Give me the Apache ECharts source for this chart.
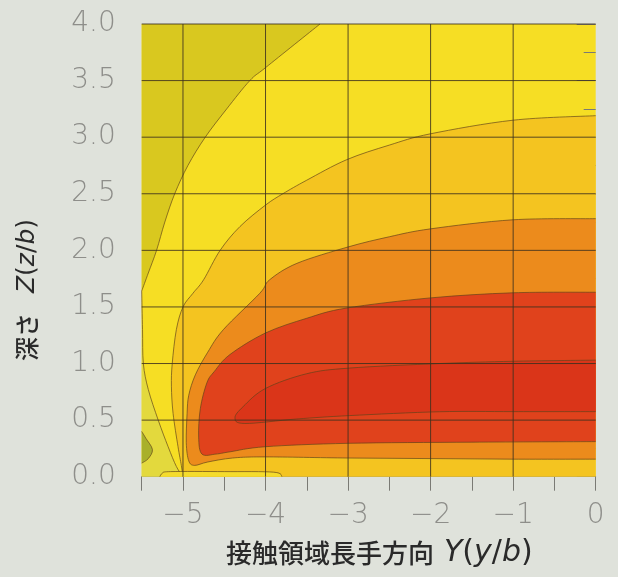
<!DOCTYPE html>
<html>
<head>
<meta charset="utf-8">
<script src="https://cdn.jsdelivr.net/npm/echarts@6/dist/echarts.min.js"></script>
<style>
html,body{margin:0;padding:0;background:#dfe2db;}
#main{width:618px;height:577px;}
</style>
</head>
<body>
<div id="main"></div>
<script>
// ---- data, Y = y/b, Z = z/b ----
const xTickLabels = [-5, -4, -3, -2, -1, 0];
const gridYs = [-5, -4, -3, -2, -1];
const gridZs = [0.5, 1.0, 1.5, 2.0, 2.5, 3.0, 3.5, 4.0];

// contour boundaries [Y, Z]
const oliveEdge = [[-3.34,4.0],[-3.99,3.62],[-4.19,3.5],[-4.47,3.25],[-4.73,3.0],[-4.94,2.75],[-5.10,2.5],[-5.22,2.25],[-5.32,2.0],[-5.42,1.8],[-5.5,1.64]];
const oliveClose = [[-5.5,4.0]];
const stripEdge = [[-5.5,1.64],[-5.49,1.3],[-5.48,1.0],[-5.42,0.77],[-5.30,0.5],[-5.18,0.265],[-5.08,0.09],[-5.0,0.0]];
const stripClose = [[-5.5,0.0]];
const greenPatch = [[-5.5,0.40],[-5.45,0.34],[-5.37,0.24],[-5.42,0.16],[-5.5,0.12]];
const lightOrangeEdge = [[0,3.19],[-1,3.15],[-2,3.03],[-2.5,2.93],[-3.02,2.80],[-3.5,2.62],[-3.79,2.5],[-4.0,2.40],[-4.31,2.21],[-4.55,2.0],[-4.75,1.74],[-4.88,1.62],[-5.0,1.50],[-5.08,1.3],[-5.13,1.0],[-5.14,0.8],[-5.12,0.56],[-5.06,0.265],[-5.02,0.1],[-5.0,0.0]];
const lightOrangeClose = [[0,0]];
const orangeEdge = [[0,2.28],[-1,2.27],[-2,2.19],[-2.5,2.12],[-3,2.03],[-3.62,1.885],[-3.95,1.74],[-4.07,1.62],[-4.51,1.30],[-4.70,1.10],[-4.85,0.90],[-4.93,0.72],[-4.95,0.56],[-4.96,0.30],[-4.93,0.14],[-4.86,0.10],[-4.7,0.13],[-4.4,0.165],[-4.0,0.175],[-3.0,0.165],[-2,0.16],[-1,0.155],[0,0.155]];
const redEdge = [[0,1.63],[-1,1.625],[-2,1.58],[-3.02,1.49],[-3.5,1.40],[-4.0,1.27],[-4.43,1.08],[-4.62,0.93],[-4.71,0.83],[-4.79,0.60],[-4.81,0.35],[-4.77,0.20],[-4.6,0.20],[-4.43,0.22],[-4.0,0.265],[-3.0,0.295],[-1.5,0.305],[0,0.31]];
const deepRedLoop = [[0,1.03],[-1,1.02],[-1.89,1.0],[-2.98,0.96],[-3.5,0.91],[-4.0,0.78],[-4.27,0.62],[-4.37,0.52],[-4.25,0.47],[-3.62,0.51],[-2.98,0.54],[-1.89,0.574],[-1,0.575],[0,0.575]];
const surfaceLoop = [[-5.28,0.0],[-5.25,0.03],[-5.15,0.045],[-4.5,0.045],[-3.9,0.04],[-3.8,0.0]];

const layers = [
  {edge: oliveEdge, close: oliveClose},
  {edge: stripEdge, close: stripClose},
  {edge: greenPatch, close: []},
  {edge: lightOrangeEdge, close: lightOrangeClose},
  {edge: orangeEdge, close: []},
  {edge: redEdge, close: []},
  {edge: deepRedLoop, close: []},
  {edge: surfaceLoop, close: []}
];
// styles
const fills = ['#d9c81f', '#e3d93d', '#a9b02a', '#f4c420', '#ec8b1c', '#e0421c', '#da3519', '#f5dc2c'];
const baseFill = '#f6de24';
const contourStroke = 'rgba(95,65,25,0.75)';
const gridStroke = 'rgba(60,48,30,0.85)';

function smoothPath(pts) {
  let d = 'M' + pts[0][0] + ' ' + pts[0][1];
  for (let i = 0; i < pts.length - 1; i++) {
    const p0 = pts[i - 1] || pts[i], p1 = pts[i], p2 = pts[i + 1], p3 = pts[i + 2] || pts[i + 1];
    const c1 = [p1[0] + (p2[0] - p0[0]) / 6, p1[1] + (p2[1] - p0[1]) / 6];
    const c2 = [p2[0] - (p3[0] - p1[0]) / 6, p2[1] - (p3[1] - p1[1]) / 6];
    d += ' C' + c1[0] + ' ' + c1[1] + ' ' + c2[0] + ' ' + c2[1] + ' ' + p2[0] + ' ' + p2[1];
  }
  return d;
}

const chart = echarts.init(document.getElementById('main'), null, {renderer: 'canvas'});

const option = {
  backgroundColor: '#dfe2db',
  animation: false,
  grid: {left: 141.7, right: 22.3, top: 24, bottom: 100.3, show: true, backgroundColor: baseFill, borderWidth: 0},
  xAxis: {
    type: 'value', min: -5.5, max: 0, interval: 0.5,
    axisLine: {show: true, lineStyle: {color: '#8e8e86', width: 1}},
    axisTick: {show: true, length: 14, lineStyle: {color: '#7a7a74', width: 1}},
    axisLabel: {
      margin: 25, fontSize: 28, color: '#8e8e8a', fontFamily: 'DejaVu Sans', fontWeight: 200,
      formatter: function (v) {
        const hit = xTickLabels.find(t => Math.abs(t - v) < 1e-9);
        if (hit === undefined) return '';
        return hit < 0 ? '\u2212' + Math.abs(hit) : String(hit);
      }
    },
    splitLine: {show: false}
  },
  yAxis: {
    type: 'value', min: 0, max: 4, interval: 0.5,
    axisLine: {show: false},
    axisTick: {show: true, length: 19, lineStyle: {color: '#7a7a74', width: 1}},
    minorTick: {show: true, splitNumber: 2, length: 12, lineStyle: {color: '#7a7a74', width: 1}},
    axisLabel: {
      margin: 26, fontSize: 28, color: '#8e8e8a', fontFamily: 'DejaVu Sans', fontWeight: 200,
      formatter: function (v) { return v.toFixed(1); }
    },
    splitLine: {show: false}
  },
  series: [
    {
      type: 'custom', z: 2, silent: true,
      data: layers.map((l, i) => [-5.5, 0, i]),
      renderItem: function (params, api) {
        const i = api.value(2);
        const layer = layers[i];
        const pts = layer.edge.map(p => api.coord(p));
        const curve = smoothPath(pts);
        let fillD = curve;
        layer.close.forEach(p => { const c = api.coord(p); fillD += ' L' + c[0] + ' ' + c[1]; });
        fillD += ' Z';
        return {
          type: 'group',
          children: [
            {type: 'path', shape: {pathData: fillD}, style: {fill: fills[i], stroke: null}},
            {type: 'path', shape: {pathData: curve}, style: {fill: null, stroke: contourStroke, lineWidth: 0.9}}
          ]
        };
      }
    },
    {
      type: 'custom', z: 5, silent: true,
      data: gridYs.map(v => [v, 0, 0]).concat(gridZs.map(v => [-5.5, v, 1])),
      renderItem: function (params, api) {
        const kind = api.value(2);
        let a, b;
        if (kind === 0) { a = api.coord([api.value(0), 0]); b = api.coord([api.value(0), 4]); }
        else { a = api.coord([-5.5, api.value(1)]); b = api.coord([0, api.value(1)]); }
        return {type: 'line', shape: {x1: a[0], y1: a[1], x2: b[0], y2: b[1]}, style: {stroke: gridStroke, lineWidth: 1}};
      }
    }
  ],
  graphic: [
    {
      type: 'text', left: 226, top: 538,
      style: {
        text: '{c|接触領域長手方向}{s| }{i|Y}{n|(}{i|y}{n|/}{i|b}{n|)}',
        rich: {
          c: {fontFamily: 'Noto Sans CJK JP', fontSize: 26, fill: '#2a2a2a', fontWeight: 500},
          s: {fontSize: 26, width: 10},
          i: {fontFamily: 'DejaVu Sans', fontStyle: 'italic', fontSize: 30, fill: '#2a2a2a'},
          n: {fontFamily: 'DejaVu Sans', fontSize: 30, fill: '#2a2a2a'}
        }
      }
    },
    {
      type: 'text', x: 27, y: 290, rotation: Math.PI / 2,
      style: {
        text: '{c|深さ}{s| }{i|Z}{n|(}{i|z}{n|/}{i|b}{n|)}',
        align: 'center', verticalAlign: 'middle',
        rich: {
          c: {fontFamily: 'Noto Sans CJK JP', fontSize: 24, fill: '#2a2a2a', fontWeight: 500},
          s: {fontSize: 24, width: 20},
          i: {fontFamily: 'DejaVu Sans', fontStyle: 'italic', fontSize: 25, fill: '#2a2a2a'},
          n: {fontFamily: 'DejaVu Sans', fontSize: 25, fill: '#2a2a2a'}
        }
      }
    }
  ]
};
chart.setOption(option);
</script>
</body>
</html>
